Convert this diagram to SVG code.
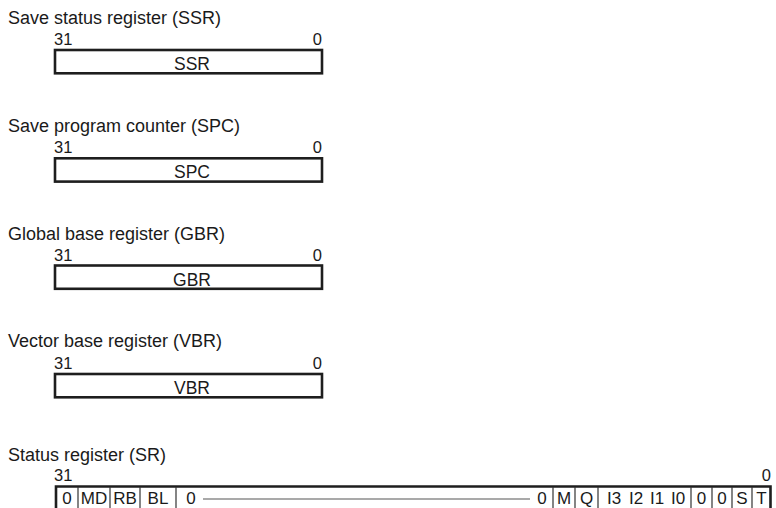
<svg xmlns="http://www.w3.org/2000/svg" width="776" height="508" viewBox="0 0 776 508">
<style>
text{font-family:"Liberation Sans",Arial,sans-serif;fill:#1a1a1a}
.title{font-size:18px}
.num{font-size:16.5px}
.lbl{font-size:17.5px;text-anchor:middle}
.cell{font-size:17px;text-anchor:middle}
.end{text-anchor:end}
.box{fill:#fff;stroke:#1e1e1e;stroke-width:2.6}
.div{stroke:#333;stroke-width:1.2}
.dash{stroke:#555;stroke-width:1.2}
</style>
<rect width="776" height="508" fill="#fff"/>
<g id="ssr">
<text class="title" x="8" y="24">Save status register (SSR)</text>
<text class="num" x="54" y="45">31</text>
<text class="num end" x="322" y="45">0</text>
<rect class="box" x="55" y="50" width="267" height="23.3"/>
<text class="lbl" x="192" y="70">SSR</text>
</g>
<g id="spc">
<text class="title" x="8" y="132.3">Save program counter (SPC)</text>
<text class="num" x="54" y="153.3">31</text>
<text class="num end" x="322" y="153.3">0</text>
<rect class="box" x="55" y="158.3" width="267" height="23.3"/>
<text class="lbl" x="192" y="178.3">SPC</text>
</g>
<g id="gbr">
<text class="title" x="8" y="239.5">Global base register (GBR)</text>
<text class="num" x="54" y="260.5">31</text>
<text class="num end" x="322" y="260.5">0</text>
<rect class="box" x="55" y="265.5" width="267" height="23.3"/>
<text class="lbl" x="192" y="285.5">GBR</text>
</g>
<g id="vbr">
<text class="title" x="8" y="347">Vector base register (VBR)</text>
<text class="num" x="54" y="368.5">31</text>
<text class="num end" x="322" y="368.5">0</text>
<rect class="box" x="55" y="374" width="267" height="23.3"/>
<text class="lbl" x="192" y="394">VBR</text>
</g>
<g id="sr">
<text class="title" x="8" y="460.5">Status register (SR)</text>
<text class="num" x="54" y="481">31</text>
<text class="num end" x="771" y="481">0</text>
<path d="M56,512 V486.5 H770.5 V512" fill="none" stroke="#1e1e1e" stroke-width="2.6"/>
<g class="div">
<line x1="78" y1="487" x2="78" y2="508"/>
<line x1="110" y1="487" x2="110" y2="508"/>
<line x1="140" y1="487" x2="140" y2="508"/>
<line x1="176" y1="487" x2="176" y2="508"/>
<line x1="553" y1="487" x2="553" y2="508"/>
<line x1="575" y1="487" x2="575" y2="508"/>
<line x1="598" y1="487" x2="598" y2="508"/>
<line x1="691" y1="487" x2="691" y2="508"/>
<line x1="712" y1="487" x2="712" y2="508"/>
<line x1="732" y1="487" x2="732" y2="508"/>
<line x1="752" y1="487" x2="752" y2="508"/>
</g>
<text class="cell" x="67" y="504">0</text>
<text class="cell" x="94" y="504">MD</text>
<text class="cell" x="125" y="504">RB</text>
<text class="cell" x="158" y="504">BL</text>
<text class="cell" x="191" y="504">0</text>
<text class="cell" x="542" y="504">0</text>
<text class="cell" x="564" y="504">M</text>
<text class="cell" x="586.5" y="504">Q</text>
<text class="cell" x="614" y="504">I3</text>
<text class="cell" x="636" y="504">I2</text>
<text class="cell" x="657" y="504">I1</text>
<text class="cell" x="678" y="504">I0</text>
<text class="cell" x="701.5" y="504">0</text>
<text class="cell" x="722" y="504">0</text>
<text class="cell" x="742" y="504">S</text>
<text class="cell" x="761.5" y="504">T</text>
</g>
<g id="connectors">
<line class="dash" x1="203" y1="499" x2="530" y2="499"/>
</g>
</svg>
